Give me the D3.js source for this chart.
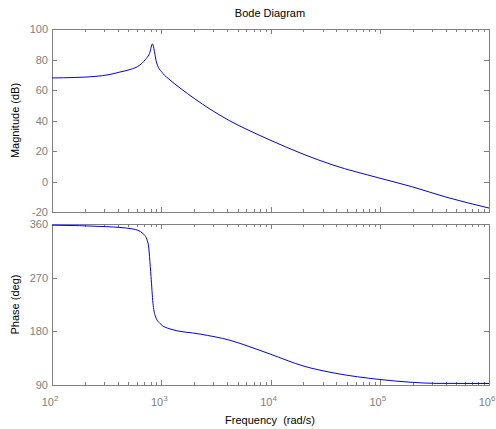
<!DOCTYPE html>
<html>
<head>
<meta charset="utf-8">
<script src="https://cdn.jsdelivr.net/npm/d3@7"></script>
<style>
  body { margin: 0; background: #fff; }
  text { font-family: "Liberation Sans", Arial, sans-serif; }
</style>
</head>
<body>
<script>
// magnitude curve
const magFreq = [100, 162, 248, 340, 419, 518, 638, 710, 789, 828, 908, 1038, 1202, 1486, 2037, 2793, 4256, 6220, 9890, 19800, 37300, 98500, 201000, 403000, 1000000];
const magDb   = [67.9, 68.2, 68.9, 70.2, 71.8, 73.4, 76.4, 79.7, 84.9, 90.2, 77.7, 70.8, 66.6, 61.3, 54.1, 47.5, 39.7, 33.8, 27.2, 18.0, 10.8, 2.3, -3.6, -10.2, -17.4];

// phase curve
const phFreq = [100, 318, 551, 681, 757, 806, 840, 877, 975, 1203, 2265, 4254, 6490, 9890, 20270, 39800, 98500, 201000, 334000, 1000000];
const phDeg  = [358, 355.5, 351.6, 344, 328, 272, 227, 207, 193, 184, 175.4, 165, 154, 142, 121.5, 109.5, 99.4, 94.4, 92.7, 92.5];

const magTicks = [-20, 0, 20, 40, 60, 80, 100];
const phTicks = [90, 180, 270, 360];
const decades = [2, 3, 4, 5, 6];

const width = 496, height = 429;
const left = 52, right = 489;
const magBox = {top: 29, bottom: 212};
const phBox = {top: 224, bottom: 385};
const axisColor = "#808080";

const svg = d3.select("body").append("svg")
    .attr("width", width)
    .attr("height", height);

const x = d3.scaleLog().domain([1e2, 1e6]).range([left, right]);
const yMag = d3.scaleLinear().domain([-20, 100]).range([magBox.bottom, magBox.top]);
const yPh = d3.scaleLinear().domain([90, 360]).range([phBox.bottom, phBox.top]);

// minor ticks 2..9 in each decade
let minor = [];
for (let d = 2; d < 6; d++) {
  for (let m = 2; m <= 9; m++) minor.push(m * Math.pow(10, d));
}
const major = decades.map(d => Math.pow(10, d));

function panel(box, y, ticks, label, labelX) {
  const g = svg.append("g");

  // box
  g.append("rect")
      .attr("x", left + 0.5)
      .attr("y", box.top + 0.5)
      .attr("width", right - left)
      .attr("height", box.bottom - box.top)
      .style("fill", "none")
      .style("stroke", axisColor);

  // x ticks top and bottom, pointing inward
  const xt = major.map(v => ({v: v, len: 5})).concat(minor.map(v => ({v: v, len: 3})));
  g.selectAll(".xb").data(xt).enter().append("line")
      .attr("x1", d => Math.round(x(d.v)) + 0.5)
      .attr("x2", d => Math.round(x(d.v)) + 0.5)
      .attr("y1", box.bottom)
      .attr("y2", d => box.bottom - d.len)
      .style("stroke", axisColor);
  g.selectAll(".xt").data(xt).enter().append("line")
      .attr("x1", d => Math.round(x(d.v)) + 0.5)
      .attr("x2", d => Math.round(x(d.v)) + 0.5)
      .attr("y1", box.top)
      .attr("y2", d => box.top + d.len)
      .style("stroke", axisColor);

  // y ticks left and right
  g.selectAll(".yl").data(ticks).enter().append("line")
      .attr("x1", left)
      .attr("x2", left + 5)
      .attr("y1", d => Math.round(y(d)) + 0.5)
      .attr("y2", d => Math.round(y(d)) + 0.5)
      .style("stroke", axisColor);
  g.selectAll(".yr").data(ticks).enter().append("line")
      .attr("x1", right)
      .attr("x2", right - 5)
      .attr("y1", d => Math.round(y(d)) + 0.5)
      .attr("y2", d => Math.round(y(d)) + 0.5)
      .style("stroke", axisColor);

  g.selectAll(".ylab").data(ticks).enter().append("text")
      .attr("x", left - 4)
      .attr("y", d => y(d) + 4)
      .attr("text-anchor", "end")
      .style("font-size", "11px")
      .style("fill", axisColor)
      .text(d => d);

  g.append("text")
      .attr("transform", `translate(${labelX},${(box.top + box.bottom) / 2}) rotate(-90)`)
      .attr("text-anchor", "middle")
      .style("font-size", "11px")
      .style("fill", "#000")
      .text(label);
}

panel(magBox, yMag, magTicks, "Magnitude (dB)", 19);
panel(phBox, yPh, phTicks, "Phase (deg)", 19);

const line = d3.line().curve(d3.curveMonotoneX);

svg.append("path")
    .attr("d", line(magFreq.map((f, i) => [x(f), yMag(magDb[i])])))
    .style("fill", "none")
    .style("stroke", "#0000ff")
    .style("stroke-width", 1);

svg.append("path")
    .attr("d", line(phFreq.map((f, i) => [x(f), yPh(phDeg[i])])))
    .style("fill", "none")
    .style("stroke", "#0000ff")
    .style("stroke-width", 1);

// decade labels 10^n
const xl = svg.selectAll(".xlab").data(decades).enter().append("text")
    .attr("x", d => x(Math.pow(10, d)) - 2)
    .attr("y", 406)
    .attr("text-anchor", "middle")
    .style("font-size", "11px")
    .style("fill", axisColor);
xl.append("tspan").text("10");
xl.append("tspan")
    .attr("dy", -5)
    .style("font-size", "8px")
    .text(d => d);

svg.append("text")
    .attr("x", 270)
    .attr("y", 17)
    .attr("text-anchor", "middle")
    .style("font-size", "11px")
    .text("Bode Diagram");

svg.append("text")
    .attr("x", 270)
    .attr("y", 424)
    .attr("text-anchor", "middle")
    .attr("xml:space", "preserve")
    .style("font-size", "11px")
    .text("Frequency  (rad/s)");
</script>
</body>
</html>
